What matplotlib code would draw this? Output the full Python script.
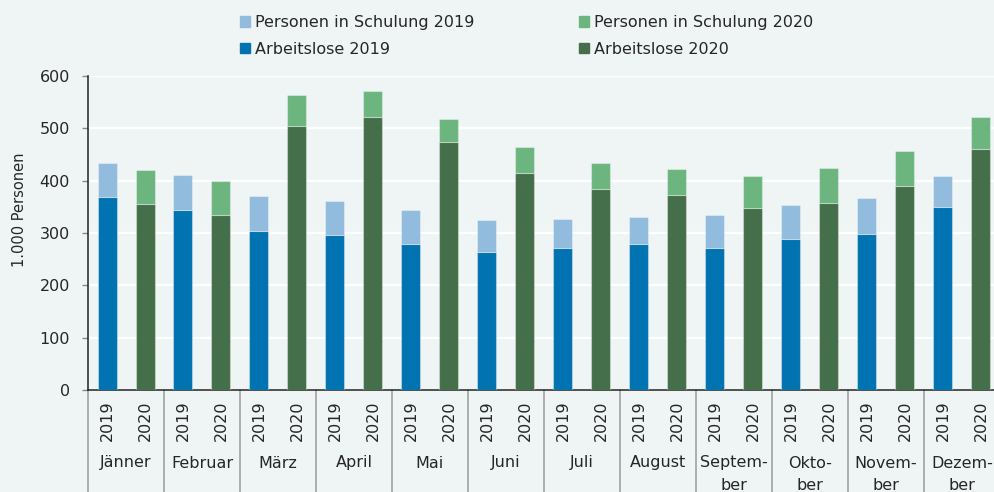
import numpy as np
import matplotlib
matplotlib.use("Agg")
import matplotlib.pyplot as plt
import matplotlib.transforms as mtransforms
from matplotlib.patches import Patch
from matplotlib.lines import Line2D

plt.rcParams['font.family'] = ['DejaVu Sans']

months = ["Jänner", "Februar", "März", "April", "Mai", "Juni", "Juli", "August",
          "Septem-\nber", "Okto-\nber", "Novem-\nber", "Dezem-\nber"]
years = ["2019", "2020"]

# 1.000 Personen
arbeitslos_2019 = [368, 344, 303, 296, 279, 264, 271, 279, 272, 288, 299, 350]
gesamt_2019 = [434, 410, 370, 361, 343, 324, 326, 331, 335, 354, 366, 408]
arbeitslos_2020 = [355, 334, 504, 522, 473, 415, 384, 372, 347, 358, 390, 460]
gesamt_2020 = [421, 400, 563, 572, 517, 464, 433, 423, 408, 424, 457, 521]

schulung_2019 = np.array(gesamt_2019) - np.array(arbeitslos_2019)
schulung_2020 = np.array(gesamt_2020) - np.array(arbeitslos_2020)

c_al19 = "#0073B0"
c_sch19 = "#92BCDD"
c_al20 = "#456F4B"
c_sch20 = "#6DB57E"
bg = "#EFF5F5"
txt = "#262626"

fig = plt.figure(figsize=(9.95, 4.92), dpi=100, facecolor=bg)
ax = fig.add_axes([88 / 995, 102 / 492, 912 / 995, 314 / 492], facecolor=bg)

x19 = np.arange(12) * 2
x20 = x19 + 1
w = 0.5
edge = dict(edgecolor=(1, 1, 1, 0.35), linewidth=0.8)
ax.bar(x19, arbeitslos_2019, w, color=c_al19, zorder=3, **edge)
ax.bar(x19, schulung_2019, w, bottom=arbeitslos_2019, color=c_sch19, zorder=3, **edge)
ax.bar(x20, arbeitslos_2020, w, color=c_al20, zorder=3, **edge)
ax.bar(x20, schulung_2020, w, bottom=arbeitslos_2020, color=c_sch20, zorder=3, **edge)

ax.set_xlim(-0.5, 23.5)
ax.set_ylim(0, 600)
ax.set_yticks(range(0, 601, 100))
ax.yaxis.grid(True, color="white", linewidth=1.6, zorder=0)
ax.set_axisbelow(True)
ax.set_xticks([])
ax.tick_params(axis='y', length=4, width=1, color="#888888", labelsize=11.5,
               labelcolor=txt, pad=9)
for s in ["top", "right"]:
    ax.spines[s].set_visible(False)
ax.spines["left"].set_color("#222222")
ax.spines["bottom"].set_color("#222222")
ax.spines["left"].set_linewidth(1.1)
ax.spines["bottom"].set_linewidth(1.1)

fig.text(20 / 995, 1 - 210 / 492, "1.000 Personen", rotation=90, ha="center",
         va="center", fontsize=10.5, color=txt)

# category axis below
trans = mtransforms.blended_transform_factory(ax.transData, fig.transFigure)
for i in range(12):
    for j, yr in enumerate(years):
        ax.text(2 * i + j, 1 - 421 / 492, yr, rotation=90, ha="center", va="center",
                fontsize=11.5, color=txt, transform=trans)
    parts = months[i].split("\n")
    for k, p in enumerate(parts):
        ax.text(2 * i + 0.5, 1 - (463 + 22 * k) / 492, p, ha="center", va="center",
                fontsize=11.5, color=txt, transform=trans)
for i in range(13):
    ax.add_line(Line2D([2 * i - 0.5, 2 * i - 0.5], [1 - 390 / 492, 0],
                       color="#999999", linewidth=1.1, transform=trans, clip_on=False))

handles = [Patch(color=c_sch19), Patch(color=c_al19), Patch(color=c_sch20), Patch(color=c_al20)]
labels = ["Personen in Schulung 2019", "Arbeitslose 2019",
          "Personen in Schulung 2020", "Arbeitslose 2020"]
leg = fig.legend(handles, labels, ncol=2, loc="upper left",
                 bbox_to_anchor=(240 / 995, 1 - 15 / 492), frameon=False,
                 fontsize=11.5, handlelength=0.62, handleheight=0.62, handletextpad=0.3,
                 columnspacing=6.6, labelspacing=0.72, borderpad=0, borderaxespad=0)
for t in leg.get_texts():
    t.set_color(txt)

fig.savefig("out.png", dpi=100, facecolor=bg)
